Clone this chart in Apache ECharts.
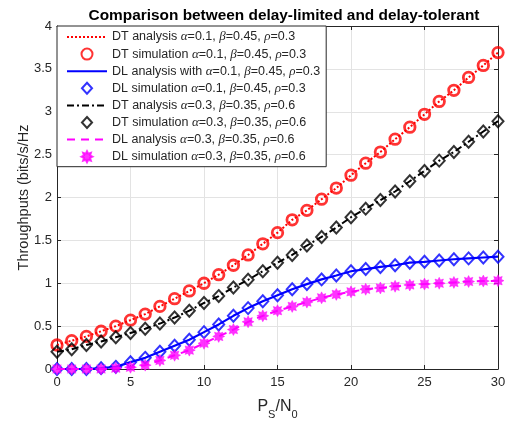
<!DOCTYPE html>
<html>
<head>
<meta charset="utf-8">
<script src="https://cdn.jsdelivr.net/npm/echarts@6/dist/echarts.min.js"></script>
<style>html,body{margin:0;padding:0;background:#fff;}#c{width:506px;height:421px;}</style>
</head>
<body>
<div id="c"></div>
<script>
const xValues = [0,1,2,3,4,5,6,7,8,9,10,11,12,13,14,15,16,17,18,19,20,21,22,23,24,25,26,27,28,29,30];
const dtA = [0.28,0.33,0.38,0.44,0.50,0.57,0.64,0.73,0.82,0.91,1.00,1.10,1.21,1.33,1.46,1.59,1.74,1.85,1.98,2.11,2.26,2.40,2.53,2.68,2.82,2.97,3.12,3.25,3.40,3.54,3.69];
const dlA = [0,0,0,0.01,0.025,0.08,0.13,0.20,0.27,0.34,0.43,0.52,0.62,0.71,0.79,0.86,0.93,0.99,1.045,1.09,1.14,1.165,1.19,1.21,1.24,1.25,1.265,1.28,1.29,1.30,1.31];
const dtB = [0.20,0.23,0.28,0.32,0.37,0.42,0.47,0.53,0.60,0.68,0.77,0.85,0.95,1.04,1.14,1.24,1.33,1.44,1.54,1.65,1.77,1.87,1.97,2.07,2.19,2.31,2.43,2.53,2.65,2.77,2.89];
const dlB = [0,0,0,0,0.01,0.02,0.045,0.10,0.16,0.22,0.30,0.38,0.46,0.55,0.62,0.68,0.73,0.78,0.83,0.87,0.90,0.93,0.945,0.965,0.98,0.99,1.00,1.01,1.02,1.025,1.03];
const yTicks = [0,0.5,1,1.5,2,2.5,3,3.5,4];
const xTicks = [0,5,10,15,20,25,30];
const names = [
  'DT analysis a1','DT simulation a1','DL analysis with a1','DL simulation a1',
  'DT analysis a3','DT simulation a3','DL analysis a3','DL simulation a3'
];
const labels = [
  ['DT analysis ','0.1','0.45','0.3'],
  ['DT simulation ','0.1','0.45','0.3'],
  ['DL analysis with ','0.1','0.45','0.3'],
  ['DL simulation ','0.1','0.45','0.3'],
  ['DT analysis ','0.3','0.35','0.6'],
  ['DT simulation ','0.3','0.35','0.6'],
  ['DL analysis ','0.3','0.35','0.6'],
  ['DL simulation ','0.3','0.35','0.6']
];
function pairs(ys){ return xValues.map((x,i)=>[x, ys[i]]); }
const star = 'path://M20,10L15.54,12.3L17.07,17.07L12.3,15.54L10,20L7.7,15.54L2.93,17.07L4.46,12.3L0,10L4.46,7.7L2.93,2.93L7.7,4.46L10,0L12.3,4.46L17.07,2.93L15.54,7.7Z';
const diamond = 'path://M11,0L22,12L11,24L0,12Z';
const txt = '#262626';
const chart = echarts.init(document.getElementById('c'), null, {renderer:'canvas'});
const axisCommon = {
  axisLine:{show:true, onZero:false, lineStyle:{color:txt, width:1}},
  axisTick:{show:true, inside:true, length:4, lineStyle:{color:txt}},
};
const legendData = names.map((n,i)=> (i%2===0) ? {name:n, itemStyle:{opacity:0}} : {name:n});
chart.setOption({
  animation:false,
  backgroundColor:'#fff',
  title:{
    text:'Comparison between delay-limited and delay-tolerant',
    left:279, top:3, textAlign:'center',
    textStyle:{fontFamily:'Liberation Sans, Arial', fontSize:15.4, fontWeight:'bold', color:'#000'}
  },
  grid:{left:57, right:8, top:26, bottom:52, containLabel:false, outerBoundsMode:'none'},
  legend:{
    orient:'vertical', left:57, top:26,
    padding:[4,6,3,9], itemGap:3.1, itemWidth:40, itemHeight:11,
    backgroundColor:'#fff', borderColor:txt, borderWidth:1,
    data: legendData,
    formatter: function(name){
      const l = labels[names.indexOf(name)];
      return '{n|'+l[0]+'}{g|α}{n|='+l[1]+', }{g|β}{n|='+l[2]+', }{g|ρ}{n|='+l[3]+'}';
    },
    textStyle:{
      fontFamily:'Liberation Sans, Arial', fontSize:12.5, color:txt, lineHeight:14,
      rich:{
        n:{fontFamily:'Liberation Sans, Arial', fontSize:12.5, color:txt, lineHeight:14},
        g:{fontFamily:'Liberation Serif, DejaVu Serif', fontStyle:'italic', fontSize:13, color:txt, lineHeight:14}
      }
    }
  },
  xAxis:[{
    type:'value', min:0, max:30, interval:5,
    name:'{a|P}{s|S}{a|/N}{s|0}', nameLocation:'middle', nameGap:30,
    nameTextStyle:{rich:{
      a:{fontFamily:'Liberation Sans, Arial', fontSize:16, color:txt, lineHeight:18, verticalAlign:'top'},
      s:{fontFamily:'Liberation Sans, Arial', fontSize:11, color:txt, lineHeight:21, verticalAlign:'bottom'}
    }},
    ...axisCommon,
    axisLabel:{color:txt, fontFamily:'Liberation Sans, Arial', fontSize:13, margin:7,
      formatter:function(v){ return xTicks.indexOf(v)>=0 ? String(v) : ''; }},
    splitLine:{show:true, lineStyle:{color:'#e3e3e3', width:1}}
  },{
    type:'value', min:0, max:30, interval:5, position:'top',
    ...axisCommon, axisLabel:{show:false}, splitLine:{show:false}
  }],
  yAxis:[{
    type:'value', min:0, max:4, interval:0.5,
    name:'Throughputs (bits/s/Hz', nameLocation:'middle', nameGap:26, nameMoveOverlap:false,
    nameTextStyle:{fontFamily:'Liberation Sans, Arial', fontSize:14.5, color:txt},
    ...axisCommon,
    axisLabel:{color:txt, fontFamily:'Liberation Sans, Arial', fontSize:13, margin:5,
      formatter:function(v){ return yTicks.indexOf(v)>=0 ? String(v) : ''; }},
    splitLine:{show:true, lineStyle:{color:'#e3e3e3', width:1}}
  },{
    type:'value', min:0, max:4, interval:0.5, position:'right',
    ...axisCommon, axisLabel:{show:false}, splitLine:{show:false}
  }],
  series:[
    {name:names[0], type:'line', data:pairs(dtA), symbol:'none', z:2,
      lineStyle:{color:'#ff0000', width:2, type:[2,2]}, itemStyle:{color:'#ff0000'}},
    {name:names[1], type:'scatter', data:pairs(dtA), symbol:'circle', symbolSize:10.5, z:3,
      itemStyle:{color:'rgba(255,255,255,0)', borderColor:'#ff0000', borderWidth:2.8}},
    {name:names[2], type:'line', data:pairs(dlA), symbol:'none', z:4,
      lineStyle:{color:'#0000ff', width:2.2, type:'solid'}, itemStyle:{color:'#0000ff'}},
    {name:names[3], type:'scatter', data:pairs(dlA), symbol:diamond, symbolSize:[11,12], z:5,
      itemStyle:{color:'rgba(255,255,255,0)', borderColor:'#0000ff', borderWidth:2}},
    {name:names[4], type:'line', data:pairs(dtB), symbol:'none', z:6,
      lineStyle:{color:'#000000', width:2, type:[7,3,2,3]}, itemStyle:{color:'#000000'}},
    {name:names[5], type:'scatter', data:pairs(dtB), symbol:diamond, symbolSize:[11,12], z:7,
      itemStyle:{color:'rgba(255,255,255,0)', borderColor:'#000000', borderWidth:2}},
    {name:names[6], type:'line', data:pairs(dlB), symbol:'none', z:8,
      lineStyle:{color:'#ff00ff', width:2, type:[8,6]}, itemStyle:{color:'#ff00ff'}},
    {name:names[7], type:'scatter', data:pairs(dlB), symbol:star, symbolSize:12, z:9,
      itemStyle:{color:'#ff00ff', borderColor:'#ff00ff', borderWidth:0.5}}
  ]
});
</script>
</body>
</html>
